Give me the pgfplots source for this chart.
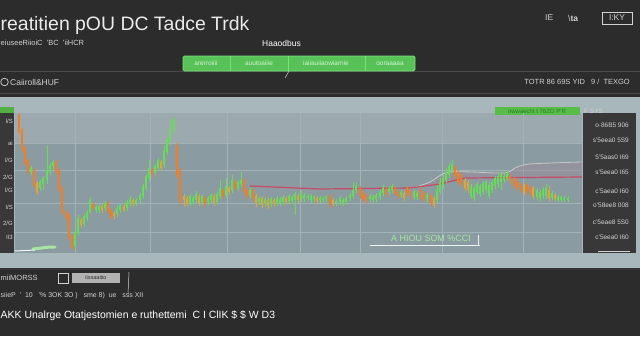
\documentclass[border=0pt]{standalone}
\usepackage{pgfplots}
\pgfplotsset{compat=1.18}
\usepackage{pgfplotstable}
\usepackage{fontspec}
\setmainfont{Liberation Sans}
\definecolor{bgdark}{HTML}{2C2C2C}
\definecolor{sepc}{HTML}{4A4A4A}
\definecolor{panel}{HTML}{A8B7BB}
\definecolor{plotbg}{HTML}{8A9BA2}
\definecolor{gridc}{HTML}{A2B3B8}
\definecolor{sidec}{HTML}{383838}
\definecolor{greenC}{HTML}{66DD55}
\definecolor{orangeC}{HTML}{F47C22}
\definecolor{yellowC}{HTML}{E0A830}
\definecolor{tabg}{HTML}{58C258}
\definecolor{tabb}{HTML}{7AE27A}
\definecolor{tabt}{HTML}{D4F2D0}
\definecolor{bant}{HTML}{2A7A2A}
\definecolor{txtc}{HTML}{D2D2D2}
\definecolor{redl}{HTML}{C84A64}
\definecolor{greyl}{HTML}{C8C8C8}
\definecolor{shade}{HTML}{9C8E9C}
\definecolor{lgreen}{HTML}{A6E6A0}

% columns: x, body high, body low, wick high, wick low (price units)
\pgfplotstableread{
x bh bl wh wl
31 87 83 89 80
40 73 67 75 64
43 77 71 79 65
47 85 75 110 71
50 90 83 92 80
53 93 89 95 86
75 23 9 25 6
78 37 22 40 19
84 39 31 41 28
87 43 37 45 34
90 55 43 58 41
96 48 45 50 42
99 49 45 51 42
105 52 47 54 44
117 47 41 49 38
120 50 45 52 42
127 53 47 55 44
130 57 51 59 48
136 55 52 57 49
140 60 55 62 52
143 69 59 71 56
146 79 67 81 64
149 87 77 95 74
155 89 83 91 80
158 95 87 97 84
164 105 90 110 87
167 115 103 118 100
170 127 113 137 110
174 135 125 138 122
190 59 52 61 49
193 57 53 59 50
196 61 55 64 52
202 59 53 61 50
208 57 53 59 50
211 60 55 62 52
217 61 53 63 50
220 67 59 75 56
226 69 60 77 57
232 75 65 80 62
238 73 67 75 64
241 75 71 83 68
250 65 60 67 57
259 57 53 59 50
265 56 51 58 48
271 56 51 58 48
277 57 52 59 49
280 56 52 58 49
283 58 53 60 50
289 59 54 61 51
292 58 54 60 51
295 61 55 63 40
301 62 56 64 53
304 60 56 62 53
308 59 57 61 54
311 59 55 61 52
314 58 56 60 53
320 57 55 59 52
323 57 55 59 52
326 58 56 60 53
336 54 52 56 49
340 57 53 59 50
343 55 52 57 49
346 57 53 59 50
350 60 57 62 54
353 65 59 73 56
356 69 65 73 62
370 59 56 61 53
373 58 55 60 52
376 60 56 62 53
380 63 58 65 55
383 67 62 70 59
389 67 63 69 60
392 69 65 71 62
401 63 60 65 57
414 63 58 65 55
417 62 58 64 55
427 60 56 62 53
437 65 55 70 52
440 73 63 77 60
443 77 69 80 66
446 83 75 87 72
449 89 80 92 77
452 91 85 95 82
471 69 59 71 56
474 67 57 69 54
477 71 63 73 60
480 69 61 71 58
483 72 63 74 60
486 73 65 75 62
489 70 59 72 56
492 73 65 75 62
495 77 69 79 66
498 79 71 81 67
501 81 73 83 65
504 79 75 83 72
507 81 77 85 74
537 65 58 67 55
540 63 57 65 54
543 65 59 68 56
546 67 59 71 56
552 62 57 64 55
558 58 55 60 53
561 58 55 59 53
564 57 55 59 53
568 57 55 59 53
}\greenT

\pgfplotstableread{
x bh bl wh wl
19 140 123 142 121
22 125 105 127 103
25 107 92 109 89
28 95 83 97 81
34 85 69 87 67
56 93 83 95 81
59 85 65 87 63
62 67 42 69 40
66 43 37 45 34
69 40 17 42 15
72 19 7 21 5
93 51 47 53 44
108 52 43 54 41
111 45 37 47 35
152 85 81 87 78
177 110 80 112 77
180 85 53 87 50
205 57 51 59 48
223 65 59 67 56
235 73 67 75 64
244 75 63 77 60
247 65 59 67 56
253 65 57 67 54
330 59 50 61 47
360 67 59 69 56
363 62 56 64 53
366 60 54 62 51
386 66 61 68 58
395 67 62 69 59
398 63 59 65 56
407 67 62 69 59
410 65 59 67 56
420 65 58 67 55
424 62 56 64 53
431 60 52 62 49
455 88 79 90 76
458 83 73 85 70
461 80 71 82 68
510 79 74 81 71
514 76 69 78 66
517 74 68 76 65
521 71 65 73 62
527 70 64 72 61
530 68 62 70 59
}\orangeT

\pgfplotstableread{
x bh bl wh wl
37 72 62 74 60
81 35 30 37 27
102 49 45 51 42
114 42 39 44 36
124 49 45 51 43
133 55 51 57 48
161 93 87 95 84
184 59 55 61 48
187 57 51 59 48
199 59 52 61 49
214 59 52 61 49
229 67 63 69 60
256 59 51 61 48
262 57 50 59 47
268 55 49 57 46
274 55 51 57 48
286 57 53 59 50
298 59 55 61 52
317 57 54 59 51
333 55 52 57 49
404 62 57 64 54
434 57 50 59 47
465 75 67 77 64
468 73 65 75 62
524 69 63 71 60
533 67 59 69 56
549 65 57 69 54
555 60 56 62 54
}\yellowT

\newcommand{\smalltxt}[4]{\node[anchor=#1, text=txtc, inner sep=0pt, font=\fontsize{#2}{#2}\selectfont] at #3 {#4};}

\begin{document}
\begin{tikzpicture}[x=1bp,y=1bp]
\path[use as bounding box] (0,0) rectangle (640,336);
\begin{scope}
\clip (0,0) rectangle (640,336);
% background
\fill[bgdark] (0,0) rectangle (640,336);
\draw[sepc, line width=1bp] (0,265) -- (640,265);
\draw[sepc, line width=1bp] (0,243) -- (640,243);
% header texts
\node[anchor=west, text=white!92!black, inner sep=0pt, font=\fontsize{19.5}{19.5}\selectfont] at (0.5,311) {reatitien pOU DC Tadce Trdk};
\smalltxt{west}{8.5}{(545,318)}{IE}
\smalltxt{west}{8.5}{(568,318)}{\textbackslash\textbf{ta}}
\smalltxt{center}{8.5}{(617,318)}{I:KY}
\draw[txtc, line width=0.5bp] (602,312) rectangle (632,324);
\smalltxt{west}{7.5}{(0.5,293)}{eiuseeRiioiC\ \ 'BC\ \ 'iiHCR}
\node[anchor=west, text=white, inner sep=0pt, font=\fontsize{8.5}{8.5}\selectfont] at (262,293) {Haaodbus};
% tabs
\fill[tabg, rounded corners=1.5bp] (183,265) rectangle (415,280);
\draw[tabb, line width=0.8bp, rounded corners=1.5bp] (183,265) rectangle (415,280);
\draw[tabb, line width=0.8bp] (230,265) -- (230,280);
\draw[tabb, line width=0.8bp] (288,265) -- (288,280);
\draw[tabb, line width=0.8bp] (365,265) -- (365,280);
\node[text=tabt, inner sep=0pt, font=\fontsize{6.5}{6.5}\selectfont] at (206,272.5) {arerroiiii};
\node[text=tabt, inner sep=0pt, font=\fontsize{6.5}{6.5}\selectfont] at (259,272.5) {auutoaiiie};
\node[text=tabt, inner sep=0pt, font=\fontsize{6.5}{6.5}\selectfont] at (326,272.5) {iaiiauiiaowiarnie};
\node[text=tabt, inner sep=0pt, font=\fontsize{6.5}{6.5}\selectfont] at (390,272.5) {ooraaaaa};
\draw[txtc, line width=0.5bp] (289,265) -- (285,258);
% third row
\draw[txtc, line width=0.7bp] (4.5,254) circle (3.8);
\smalltxt{west}{8.5}{(10,254)}{Caiiroll\&HUF}
\smalltxt{east}{7.5}{(630,254)}{TOTR 86 69S YID\ \ \ 9 /\ \ TEXGO}
% chart panel
\fill[panel] (0,68) rectangle (640,239);
\draw[black!80, line width=1.5bp] (0,67) -- (640,67);
\fill[plotbg] (15,83) rectangle (582,223);
\fill[plotbg!85!white] (15,193) rectangle (582,223);
\fill[sidec] (0,83) rectangle (14,229);
\fill[sidec] (583,83) rectangle (636,223);
% left side labels
\fill[greenC!80!black] (0,223) rectangle (14,229);
\smalltxt{east}{6}{(13,215)}{l/S}
\smalltxt{east}{6}{(13,193)}{ai}
\smalltxt{east}{6}{(13,176)}{l/G}
\smalltxt{east}{6}{(13,159)}{2/G}
\smalltxt{east}{6}{(13,146)}{l/G}
\smalltxt{east}{6}{(13,129)}{l/S}
\smalltxt{east}{6}{(13,113)}{2/G}
\smalltxt{east}{6}{(13,99)}{lI3}
% right side labels
\smalltxt{east}{6.5}{(629,211)}{o·86B5 906}
\smalltxt{east}{6.5}{(629,196)}{s'5eea0 5S9}
\smalltxt{east}{6.5}{(629,179)}{5'5aas0 I69}
\smalltxt{east}{6.5}{(629,164)}{s'5eea0 I65}
\smalltxt{east}{6.5}{(629,145)}{c'5aea0 I60}
\smalltxt{east}{6.5}{(629,131)}{o'58ee8 008}
\smalltxt{east}{6.5}{(629,114)}{c'5eae8 5S0}
\smalltxt{east}{6.5}{(629,99)}{c'5eea0 I60}
\draw[txtc, line width=0.5bp] (598,85) -- (630,85);
% green banner top right
\fill[greenC!85!black] (495,221) rectangle (580,229);
\node[text=bant, inner sep=0pt, font=\fontsize{6}{6}\selectfont] at (537,225) {nwwaecht t 76ZO P'R};
\smalltxt{west}{6.5}{(584,225)}{F SYS}

\begin{axis}[
  at={(15,83)}, anchor=south west,
  scale only axis, width=567bp, height=140bp,
  xmin=15, xmax=582, ymin=2, ymax=142,
  clip=false,
  axis line style={draw=none},
  major tick length=0pt,
  xtick={75,150,227,300,360,442,523},
  ytick={23,52,85,112},
  xticklabels={}, yticklabels={},
  grid=major,
  grid style={color=gridc, line width=0.6bp},
]
\addplot[fill=shade, fill opacity=0.55, draw=none] coordinates {
(413,67)(430,73)(450,83)(503,82)(515,87)(530,91)(582,93)
(582,78)(465,77)(440,71)(413,67)} -- cycle;
\addplot[greyl, line width=0.8bp, smooth] coordinates {
(413,67)(430,73)(450,83)(503,82)(515,87)(530,91)(582,93)};
\addplot[redl, line width=1.2bp] coordinates {
(250,69)(320,66)(410,67)(440,71)(465,77)(582,78)};
\addplot[lgreen, line width=3bp, line cap=round] coordinates {(33,6)(50,8)(55,8)};
\addplot[white!85!panel, line width=1bp] coordinates {(15,4)(35,5)};
% wicks
\addplot[draw=none, mark=none, error bars/.cd, y dir=plus, y explicit, error mark=none,
  error bar style={draw=greenC, line width=0.7bp}]
  table[x=x, y=wl, y error plus expr=\thisrow{wh}-\thisrow{wl}] {\greenT};
\addplot[draw=none, mark=none, error bars/.cd, y dir=plus, y explicit, error mark=none,
  error bar style={draw=orangeC, line width=0.7bp}]
  table[x=x, y=wl, y error plus expr=\thisrow{wh}-\thisrow{wl}] {\orangeT};
\addplot[draw=none, mark=none, error bars/.cd, y dir=plus, y explicit, error mark=none,
  error bar style={draw=yellowC, line width=0.7bp}]
  table[x=x, y=wl, y error plus expr=\thisrow{wh}-\thisrow{wl}] {\yellowT};
% bodies
\addplot[draw=none, mark=none, error bars/.cd, y dir=plus, y explicit, error mark=none,
  error bar style={draw=greenC, line width=2.2bp}]
  table[x=x, y=bl, y error plus expr=\thisrow{bh}-\thisrow{bl}] {\greenT};
\addplot[draw=none, mark=none, error bars/.cd, y dir=plus, y explicit, error mark=none,
  error bar style={draw=orangeC, line width=2.4bp}]
  table[x=x, y=bl, y error plus expr=\thisrow{bh}-\thisrow{bl}] {\orangeT};
\addplot[draw=none, mark=none, error bars/.cd, y dir=plus, y explicit, error mark=none,
  error bar style={draw=yellowC, line width=2.2bp}]
  table[x=x, y=bl, y error plus expr=\thisrow{bh}-\thisrow{bl}] {\yellowT};
\node[text=lgreen, inner sep=0pt, font=\fontsize{9}{9}\selectfont] at (axis cs:431,17) {A HIOU SOM \%CCI};
\draw[white!80!panel, line width=0.5bp] (axis cs:370,10) -- (axis cs:480,10);
\draw[white!80!panel, line width=0.5bp] (axis cs:478,10) -- (axis cs:478,20);
\end{axis}

% bottom texts
\smalltxt{west}{7.5}{(0.5,58)}{miiMORSS}
\draw[txtc, line width=0.6bp] (58,53) rectangle (68,63);
\fill[gray!60] (72,53) rectangle (120,63);
\node[text=bgdark, inner sep=0pt, font=\fontsize{5.5}{5.5}\selectfont] at (96,58) {iissaaitio};
\draw[txtc, line width=0.5bp] (128,42) -- (129,64);
\smalltxt{west}{7}{(0.5,40)}{siieP\ \ '\ \ 10\ \ \ '\%\ 3OK\ 3O\ )\ \ \ sme 8)\ \ ue\ \ \ sss XII}
\node[anchor=west, text=white, inner sep=0pt, font=\fontsize{10.5}{10.5}\selectfont] at (0.5,20) {AKK\ Unalrge Otatjestomien e ruthettemi\ \ C I ClIK \$ \$ W D3};
\end{scope}
\end{tikzpicture}
\end{document}
